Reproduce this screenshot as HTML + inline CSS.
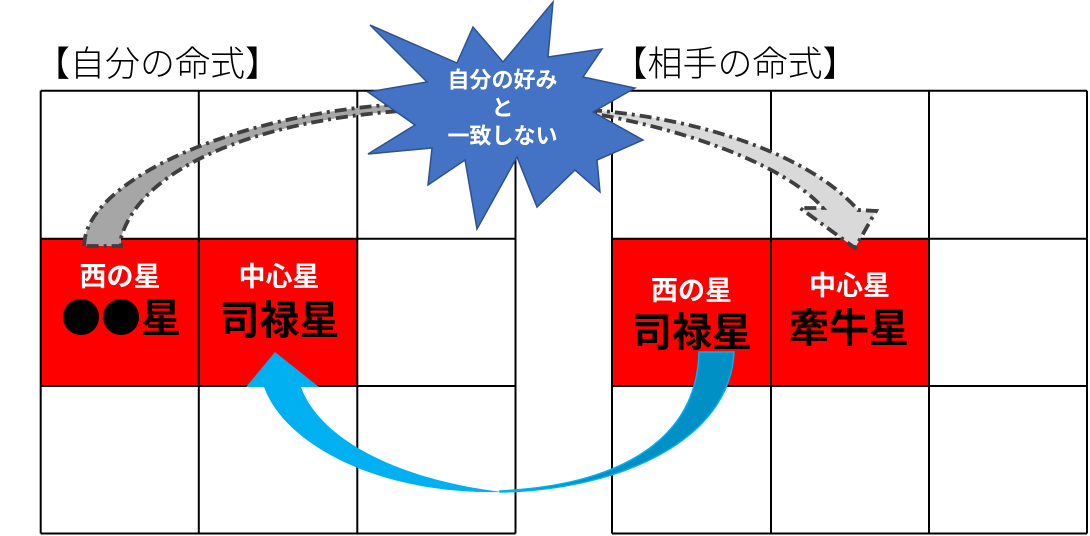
<!DOCTYPE html>
<html>
<head>
<meta charset="utf-8">
<style>
  html,body{margin:0;padding:0;background:#ffffff;}
  svg{display:block;}
  .t{font-family:"Liberation Sans","Noto Sans CJK JP",sans-serif;}
</style>
</head>
<body>
<svg width="1090" height="536" viewBox="0 0 1090 536" xmlns="http://www.w3.org/2000/svg">
  <rect x="0" y="0" width="1090" height="536" fill="#ffffff"/>

  <!-- red cells -->
  <rect x="40.7" y="238.7" width="316.6" height="147.3" fill="#FF0000"/>
  <rect x="612" y="238.7" width="317" height="147.3" fill="#FF0000"/>

  <!-- left grid -->
  <g stroke="#000" stroke-width="2" fill="none">
    <line x1="40.7" y1="90.7" x2="40.7" y2="533.5"/>
    <line x1="198.8" y1="90.7" x2="198.8" y2="533.5"/>
    <line x1="357.3" y1="90.7" x2="357.3" y2="533.5"/>
    <line x1="515.5" y1="90.7" x2="515.5" y2="533.5"/>
    <line x1="40.7" y1="90.7" x2="515.5" y2="90.7"/>
    <line x1="40.7" y1="238.7" x2="515.5" y2="238.7"/>
    <line x1="40.7" y1="386" x2="515.5" y2="386"/>
    <line x1="40.7" y1="533.5" x2="515.5" y2="533.5"/>
  </g>
  <!-- right grid -->
  <g stroke="#000" stroke-width="2" fill="none">
    <line x1="612" y1="90.7" x2="612" y2="533.5"/>
    <line x1="771" y1="90.7" x2="771" y2="533.5"/>
    <line x1="929" y1="90.7" x2="929" y2="533.5"/>
    <line x1="1087" y1="90.7" x2="1087" y2="533.5"/>
    <line x1="612" y1="90.7" x2="1087" y2="90.7"/>
    <line x1="612" y1="238.7" x2="1087" y2="238.7"/>
    <line x1="612" y1="386" x2="1087" y2="386"/>
    <line x1="612" y1="533.5" x2="1087" y2="533.5"/>
  </g>

  <!-- titles -->
  <text class="t" x="157.5" y="76" font-size="35" font-weight="300" text-anchor="middle" fill="#000">【自分の命式】</text>
  <text class="t" x="735" y="76" font-size="35" font-weight="300" text-anchor="middle" fill="#000">【相手の命式】</text>

  <!-- cell text left -->
  <text class="t" x="120" y="286" font-size="27" font-weight="bold" text-anchor="middle" fill="#fff">西の星</text>
  <text class="t" x="121" y="332" font-size="40" font-weight="bold" text-anchor="middle" fill="#000"><tspan font-family="'Noto Sans CJK JP', sans-serif">●●</tspan>星</text>
  <text class="t" x="279" y="286" font-size="27" font-weight="bold" text-anchor="middle" fill="#fff">中心星</text>
  <text class="t" x="279.5" y="334" font-size="40" font-weight="bold" text-anchor="middle" fill="#000">司禄星</text>

  <!-- cell text right -->
  <text class="t" x="691.5" y="300" font-size="27" font-weight="bold" text-anchor="middle" fill="#fff">西の星</text>
  <text class="t" x="692" y="346" font-size="40" font-weight="bold" text-anchor="middle" fill="#000">司禄星</text>
  <text class="t" x="849.5" y="295" font-size="27" font-weight="bold" text-anchor="middle" fill="#fff">中心星</text>
  <text class="t" x="849" y="342" font-size="40" font-weight="bold" text-anchor="middle" fill="#000">牽牛星</text>

  <!-- left gray arrow -->
  <path d="M 84 246 L 85 238 C 95 180, 230 115, 400 104 L 400 111 C 250 122, 140 170, 121 238 L 121 246 Z"
        fill="#A6A6A6" stroke="#3F3F3F" stroke-width="3.8" stroke-dasharray="12 5 3 5"/>

  <!-- right gray arrow -->
  <path d="M 590 110 C 700 118, 810 155, 858 210 L 876 211 L 855 248 L 800 208 L 823 208 C 790 170, 700 132, 590 113 Z"
        fill="#D9D9D9" stroke="#3F3F3F" stroke-width="3.8" stroke-dasharray="12 5 3 5"/>

  <!-- blue arrow: right dark part -->
  <path d="M 500 492 C 620 490, 730 440, 734 352 L 699 352 C 697 440, 620 485, 500 491 Z"
        fill="#0090C6" stroke="#00B0F0" stroke-width="1.5"/>
  <!-- blue arrow: left bright part with head -->
  <path d="M 275 352 L 246 387 L 264 387 C 285 445, 380 495, 502 492 C 400 480, 320 440, 301 387 L 319 387 Z"
        fill="#00B0F0"/>

  <!-- star -->
  <polygon points="553,2 548,57 602,49 583,77 635,88 593,112 643,140 597,160 600,192 575,170 537,207 517,157 477,229 465,160 428,185 432,148 368,154 415,125 368,92 427,82 370,25 457,63 473,27 503,62"
           fill="#4472C4" stroke="#2F528F" stroke-width="1.5" stroke-linejoin="miter"/>
  <text class="t" x="502.5" y="87.5" font-size="22" font-weight="bold" text-anchor="middle" fill="#fff">自分の好み</text>
  <text class="t" x="502.5" y="115.5" font-size="22" font-weight="bold" text-anchor="middle" fill="#fff">と</text>
  <text class="t" x="502.5" y="143.5" font-size="22" font-weight="bold" text-anchor="middle" fill="#fff">一致しない</text>
</svg>
</body>
</html>
